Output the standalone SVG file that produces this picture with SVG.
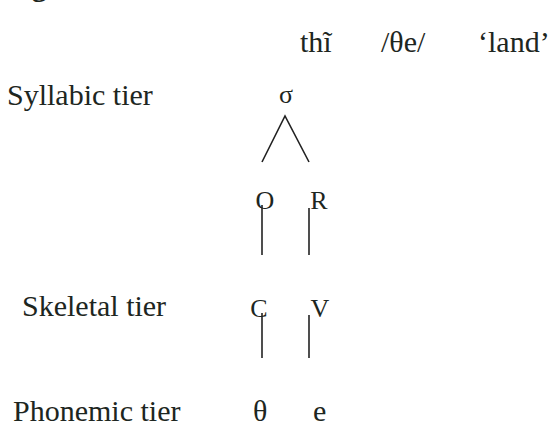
<svg xmlns="http://www.w3.org/2000/svg" width="549" height="427" viewBox="0 0 549 427">
<style>
text{font-family:'Liberation Serif','DejaVu Serif',serif;fill:#1d2621}
.t{font-size:30px}
.n{font-size:26px;text-anchor:middle}
.c{stroke:#222;stroke-width:1.6;fill:none}
</style>
<rect width="549" height="427" fill="#fff"/>
<text class="t" x="5" y="-4" font-weight="bold">Figure</text>
<g id="gloss">
<text class="t" x="300" y="52">thĩ</text>
<text class="t" x="381" y="52">/θe/</text>
<text class="t" x="478" y="52">‘land’</text>
</g>
<g id="tier-labels">
<text id="syllabic" class="t" x="7" y="105">Syllabic tier</text>
<text id="skeletal" class="t" x="22" y="316">Skeletal tier</text>
<text id="phonemic" class="t" x="13" y="421">Phonemic tier</text>
</g>
<g id="sigma"><text class="n" x="286" y="103">σ</text></g>
<g id="O"><text class="n" x="265" y="209">O</text></g>
<g id="R"><text class="n" x="319" y="209">R</text></g>
<g id="C"><text class="n" x="259" y="317">C</text></g>
<g id="V"><text class="n" x="320" y="317">V</text></g>
<g id="theta"><text class="t" x="253" y="421">θ</text></g>
<g id="e"><text class="t" x="313" y="421">e</text></g>
<g id="connectors">
<path class="c" d="M262 162 L285 116 L309 162"/>
<line class="c" x1="262" y1="205" x2="262" y2="255"/>
<line class="c" x1="309" y1="208" x2="309" y2="255"/>
<line class="c" x1="262" y1="313" x2="262" y2="358"/>
<line class="c" x1="309" y1="315" x2="309" y2="358"/>
</g>
</svg>
